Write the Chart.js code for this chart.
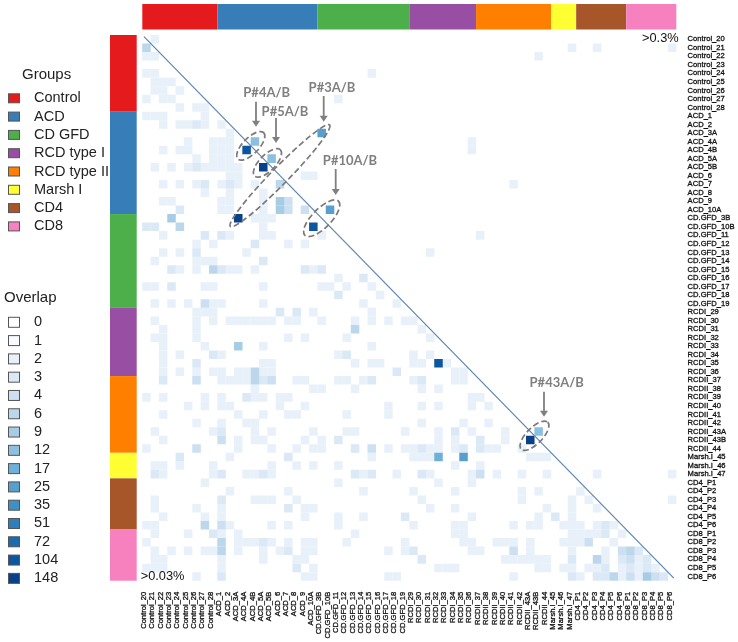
<!DOCTYPE html>
<html>
<head>
<meta charset="utf-8">
<script src="https://cdn.jsdelivr.net/npm/chart.js@4"></script>
<style>
  html, body { margin: 0; background: #fff; }
  canvas { display: block; }
</style>
</head>
<body>
<canvas id="overlap" width="738" height="642"></canvas>
<script>
const sampleLabels = [
  "Control_20","Control_21","Control_22","Control_23","Control_24","Control_25","Control_26","Control_27","Control_28",
  "ACD_1","ACD_2","ACD_3A","ACD_4A","ACD_4B","ACD_5A","ACD_5B","ACD_6","ACD_7","ACD_8","ACD_9","ACD_10A",
  "CD.GFD_3B","CD.GFD_10B","CD.GFD_11","CD.GFD_12","CD.GFD_13","CD.GFD_14","CD.GFD_15","CD.GFD_16","CD.GFD_17","CD.GFD_18","CD.GFD_19",
  "RCDI_29","RCDI_30","RCDI_31","RCDI_32","RCDI_33","RCDI_34","RCDI_35","RCDI_36",
  "RCDII_37","RCDII_38","RCDII_39","RCDII_40","RCDII_41","RCDII_42","RCDII_43A","RCDII_43B","RCDII_44",
  "Marsh.I_45","Marsh.I_46","Marsh.I_47",
  "CD4_P1","CD4_P2","CD4_P3","CD4_P4","CD4_P5","CD4_P6",
  "CD8_P1","CD8_P2","CD8_P3","CD8_P4","CD8_P5","CD8_P6"
];

const groupNames = ["Control","ACD","CD GFD","RCD type I","RCD type II","Marsh I","CD4","CD8"];
const groupSizes = [9,12,11,8,9,3,6,6];
const groupColors = ["#e41a1c","#377eb8","#4daf4a","#984ea3","#ff7f00","#ffff33","#a65628","#f781bf"];

const overlapLevels = [0,1,2,3,4,6,9,12,17,25,35,51,72,104,148];
const overlapColors = ["#ffffff","#f7fbff","#e8f1fa","#dbe9f6","#cde0f2","#bcd7eb","#a6cde4","#8dc0de","#6fb0d8","#57a0ce","#4090c5","#2d7ebb","#1c6bb1","#0c56a0","#08408a"];

// each entry: [row, col, col, ...]
const cells2 = [
  [0,1],[1,51,54,63],[2,0,1,47],[4,0,1,27],[5,1,2,3],[6,1,2,4],[7,0,2,3,23],[8,4,6,7],[9,0,1,2,7],
  [10,2,4,5,7,9],[11,10],[12,5,8,9,10,39],[13,2,4,5,8,9,10,39],[14,6,8,9,10],[15,1,3,5,7,8,9,10,11],
  [16,10,11,19,20],[17,2,4,6,9,11,13,44],[18,7,10,14],[19,2,3,9,10,14],[20,9,10,14],[21,13,14,15],[22,14],
  [23,2,10,14,15,21,40],[24,6,8,17,19],[25,2,4,12,34],[26,1,6,7,8],[27,4,6,10,11,13,20],[28,23],
  [29,0,1,7,8,14,21,22,24,27],[30,28],[31,1,3,5,8,9,14,26,30],[32,6,7,8,20,27],
  [33,1,6,8,10,11,12,13,14,15,17,18,21,25,27,29,31,32],[34,2,6,33],[35,1,2,6,17,19,24,34],[36,2,7,14,27],
  [37,2,4,9,23,32,34],[38,2,14,15,25,27,28,32,33,36],[39,2,4,6,8,9,11,12,14,15,37,38],
  [40,9,10,11,12,18,19,23,24,26,32,37,38],[41,13,20,21,25,33,35],[42,0,2,7,9,13,14,16,17,39,40],
  [43,5,7,9,10,16,19,29,33,35,39,41],[44,2,11,14,17,18,24,29],[45,6,9,12,13,33,38,41],
  [46,1,8,13,15,20,24,25,31,35,39,43],[47,2,11,13,14,19,21,35,37,43],
  [48,0,11,15,18,20,21,29,31,32,34,35,37,41,42,45],[49,10,27,32,33,34,46,47,48],
  [50,1,2,4,8,15,18,20,23,37,40],[51,2,8,12,13,15,26,30,34,39,42,45,48,54,63],[52,7,23,35,39],
  [53,10,17,26,32,37,45,47,52],[54,1,13,14,15,18,33,45,51,53,63],[55,1,6,9,19,20,34,37,48,51,54],
  [56,2,7,9,19,23,26,39,47,51],[57,0,1,10,15,17,23,32,37,38,44,46,47,50,51,52,54,56],
  [58,1,5,9,11,25,37,38,51,52,53,54,57],[59,0,11,12,13,15,17,19,20,24,31,38,39,42,43,44,46,50,51,52,56],
  [60,1,3,5,7,8,11,14,16,19,20,29,31,39,40,46,51,55],[61,1,2,9,14,18,19,43,44,45,46,47,48,55,59],
  [62,0,1,2,9,20,35,36,37,47,48,50,51,53,54,57,59,61],[63,6,19,20,29,30,44,52,57,59]
];
const cells3 = [
  [10,6],[15,6],[17,7,10],[20,4],[22,0,1],[23,7,9],[24,13],[25,6],[26,14],[27,3,9,19,21],[28,26],[29,3],
  [30,23],[32,16,18],[37,8,24],[38,6],[39,30],[40,2,14,27,33],[42,12],[46,9,37],[47,23,40],[48,25,33,38,40],
  [49,4,17],[51,1,9,14,25,27,33],[54,9],[55,17],[56,31,49],[57,55],[58,8,55],[59,14],[60,17,32,59],
  [61,33,51,57,60],[62,18,55,58,60],[63,9,51,54,55,62]
];
const cells4 = [[19,17],[20,17,19],[31,7],[40,6,15],[47,9],[48,6,27],[51,40],[57,9],[59,53],[60,44,57],[61,58],[63,58,61]];
const cells6 = [[1,0],[17,16],[22,4],[27,8],[34,25],[39,13],[40,13],[57,7],[59,9],[60,9,58],[61,54],[63,56]];
const cells9 = [[19,16],[20,16],[21,3],[36,11],[63,60]];
const cells12 = [[12,13],[14,15],[46,47]];
const cells17 = [[49,35]];
const cells25 = [[11,21],[20,22],[49,38]];
const cells104 = [[13,12],[22,20],[38,35]];
const cells148 = [[15,14],[21,11],[47,46]];

// diagonal pairs that get a dashed ring: [rowA, colA, rowB, colB]
const ringCells = [[13,12,12,13],[15,14,14,15],[21,11,11,21],[22,20,20,22],[47,46,46,47]];
const ringLong = [18.4,18.4,71,24,19];
const ringShort = [8,8,8.5,9.5,8];

function toPoints(rows) {
  let out = [];
  rows.forEach((r) => {
    r.slice(1).forEach((c) => out.push({ x: sampleLabels[c], y: sampleLabels[r[0]] }));
  });
  return out;
}

function cellDataset(level, rows) {
  return {
    label: String(level),
    data: toPoints(rows),
    backgroundColor: overlapColors[overlapLevels.indexOf(level)],
    borderWidth: 0,
    pointStyle: "rect",
    pointRadius: 6.03,
    pointHoverRadius: 6.03,
    order: -level,
  };
}

const sans = '"Liberation Sans", Arial, sans-serif';

function arrow(ctx, x, y0, y1) {
  ctx.strokeStyle = "#7f7f7f";
  ctx.fillStyle = "#7f7f7f";
  ctx.lineWidth = 1.8;
  ctx.setLineDash([]);
  ctx.beginPath();
  ctx.moveTo(x, y0);
  ctx.lineTo(x, y1 - 5);
  ctx.stroke();
  ctx.beginPath();
  ctx.moveTo(x - 4, y1 - 6);
  ctx.lineTo(x + 4, y1 - 6);
  ctx.lineTo(x, y1);
  ctx.closePath();
  ctx.fill();
}

const decor = {
  id: "decor",
  beforeDatasetsDraw(chart) {
    let ctx = chart.ctx;
    let x = chart.scales.x, y = chart.scales.y;
    ctx.save();
    // group strips along the top and the left
    let start = 0;
    groupSizes.forEach((n, i) => {
      ctx.fillStyle = groupColors[i];
      let x0 = x.getPixelForValue(start - 0.5), x1 = x.getPixelForValue(start + n - 0.5);
      let y0 = y.getPixelForValue(start - 0.5), y1 = y.getPixelForValue(start + n - 0.5);
      ctx.fillRect(x0, 4, x1 - x0, 25.5);
      ctx.fillRect(110, y0, 26.7, y1 - y0);
      start += n;
    });
    ctx.restore();
  },
  afterDatasetsDraw(chart) {
    let ctx = chart.ctx;
    let x = chart.scales.x, y = chart.scales.y;
    ctx.save();

    ctx.strokeStyle = "#5b84b1";
    ctx.lineWidth = 1.2;
    ctx.beginPath();
    ctx.moveTo(x.getPixelForValue(-0.3), y.getPixelForValue(-0.3));
    ctx.lineTo(x.getPixelForValue(63.2), y.getPixelForValue(63.2));
    ctx.stroke();

    // dashed rings
    ctx.strokeStyle = "#7a7a7a";
    ctx.lineWidth = 1.7;
    ctx.setLineDash([6, 3]);
    ringCells.forEach((c, i) => {
      let ax = x.getPixelForValue(c[1]), ay = y.getPixelForValue(c[0]);
      let bx = x.getPixelForValue(c[3]), by = y.getPixelForValue(c[2]);
      ctx.beginPath();
      ctx.ellipse((ax + bx) / 2, (ay + by) / 2, ringLong[i], ringShort[i], Math.atan2(by - ay, bx - ax), 0, Math.PI * 2);
      ctx.stroke();
    });

    // patient labels and arrows
    arrow(ctx, 256, 101.7, 126.7);
    arrow(ctx, 276, 118, 143);
    arrow(ctx, 323.7, 96, 121.7);
    arrow(ctx, 335.7, 169, 195);
    arrow(ctx, 544, 391.7, 416.7);
    ctx.fillStyle = "#7f7f7f";
    ctx.font = 'bold 13px Lato, sans-serif';
    ctx.textAlign = "center";
    ctx.textBaseline = "middle";
    ctx.fillText("P#4A/B", 266.7, 92.7);
    ctx.fillText("P#5A/B", 285, 112.3);
    ctx.fillText("P#3A/B", 332, 88);
    ctx.fillText("P#10A/B", 350, 161.3);
    ctx.fillText("P#43A/B", 556.7, 383.3);

    // corner notes
    ctx.fillStyle = "#111";
    ctx.font = "12.8px " + sans;
    ctx.textAlign = "left";
    ctx.fillText(">0.3%", 642, 38.5);
    ctx.fillText(">0.03%", 140.7, 576);

    // legends
    ctx.setLineDash([]);
    ctx.font = "15px " + sans;
    ctx.fillStyle = "#222";
    ctx.fillText("Groups", 22, 74.7);
    ctx.fillText("Overlap", 4, 298.3);
    ctx.font = "14.5px " + sans;
    ctx.lineWidth = 1;
    ctx.strokeStyle = "#555";
    groupNames.forEach((g, i) => {
      let cy = 98.3 + i * 18.3;
      ctx.fillStyle = groupColors[i];
      ctx.fillRect(8.5, cy - 4.5, 11, 9);
      ctx.strokeRect(8.5, cy - 4.5, 11, 9);
      ctx.fillStyle = "#222";
      ctx.fillText(g, 34, cy);
    });
    overlapLevels.forEach((v, i) => {
      let cy = 322.3 + i * 18.29;
      ctx.fillStyle = overlapColors[i];
      ctx.fillRect(8.5, cy - 5, 11, 10);
      ctx.strokeRect(8.5, cy - 5, 11, 10);
      ctx.fillStyle = "#222";
      ctx.fillText(String(v), 34, cy);
    });
    ctx.restore();
  },
};

const tickFont = { family: sans, size: 7.6 };

new Chart(document.getElementById("overlap"), {
  type: "scatter",
  data: {
    datasets: [
      cellDataset(2, cells2),
      cellDataset(3, cells3),
      cellDataset(4, cells4),
      cellDataset(6, cells6),
      cellDataset(9, cells9),
      cellDataset(12, cells12),
      cellDataset(17, cells17),
      cellDataset(25, cells25),
      cellDataset(104, cells104),
      cellDataset(148, cells148),
    ],
  },
  options: {
    responsive: false,
    animation: false,
    events: [],
    layout: { padding: { left: 142.3, top: 35, right: 0, bottom: 0 } },
    plugins: { legend: false, tooltip: { enabled: false } },
    scales: {
      x: {
        type: "category",
        labels: sampleLabels,
        offset: true,
        grid: { display: false, drawTicks: false },
        border: { display: false },
        afterFit: (scale) => { scale.height = 61.3; },
        ticks: {
          autoSkip: false,
          minRotation: 90,
          maxRotation: 90,
          padding: 11,
          labelOffset: -2.5,
          color: "#111",
          font: tickFont,
          textStrokeColor: "#111",
          textStrokeWidth: 0.3,
        },
      },
      y: {
        type: "category",
        labels: sampleLabels,
        offset: true,
        position: "right",
        grid: { display: false, drawTicks: false },
        border: { display: false },
        afterFit: (scale) => { scale.width = 61.7; },
        ticks: {
          autoSkip: false,
          padding: 11.3,
          color: "#111",
          font: tickFont,
          textStrokeColor: "#111",
          textStrokeWidth: 0.3,
        },
      },
    },
  },
  plugins: [decor],
});
</script>
</body>
</html>
